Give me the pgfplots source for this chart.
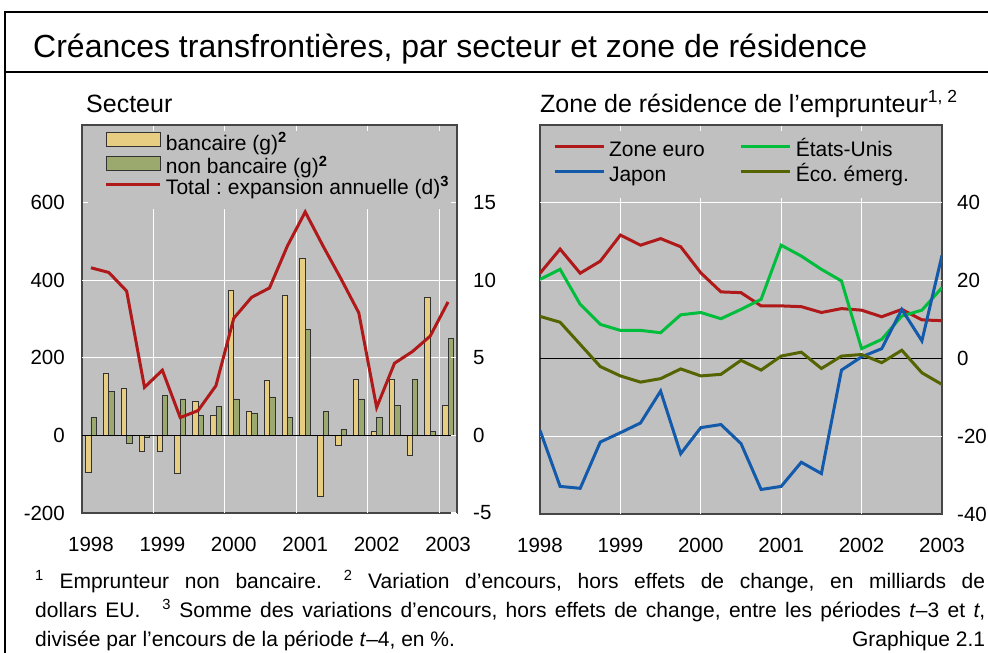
\documentclass[border=0pt]{standalone}
\usepackage{fontspec}
\setmainfont{Liberation Sans}
\usepackage{pgfplots}
\pgfplotsset{compat=1.18}
\frenchspacing
\definecolor{bg}{RGB}{192,192,192}
\definecolor{bankcol}{RGB}{230,205,130}
\definecolor{nbcol}{RGB}{155,168,110}
\definecolor{barline}{RGB}{50,50,50}
\definecolor{axcol}{RGB}{70,70,70}
\definecolor{redline}{RGB}{175,25,25}
\definecolor{usgreen}{RGB}{0,190,60}
\definecolor{japblue}{RGB}{20,90,170}
\definecolor{emolive}{RGB}{85,100,0}
\tikzset{gridline/.style={white, line width=1pt}}
\pgfplotsset{
  mystyle/.style={
    scale only axis,
    axis line style={draw=axcol, line width=1.5pt},
    tick style={white, line width=1.2pt},
    tick align=inside, major tick length=6pt,
    tick label style={font=\fontsize{20.5}{24}\selectfont},
    xticklabel style={anchor=north, inner sep=0pt, yshift=-24pt},
  },
}
\begin{document}
\begin{tikzpicture}
\useasboundingbox (0pt,0pt) rectangle (988pt,-653pt);
\draw[line width=2pt] (5pt,-12pt) -- (988pt,-12pt);
\draw[line width=2pt] (5pt,-72pt) -- (988pt,-72pt);
\draw[line width=2pt] (5pt,-11pt) -- (5pt,-653pt);
\node[anchor=base west, inner sep=0pt, font=\fontsize{32}{38}\selectfont] at (33pt,-57pt) {Créances transfrontières, par secteur et zone de résidence};
\node[anchor=base west, inner sep=0pt, font=\fontsize{25}{30}\selectfont] at (86pt,-112pt) {Secteur};
\node[anchor=base west, inner sep=0pt, font=\fontsize{25}{30}\selectfont] at (540pt,-112pt) {Zone de résidence de l’emprunteur\textsuperscript{1, 2}};

% ---------- left panel: bars ----------
\begin{axis}[mystyle, axis background/.style={fill=bg},
  at={(82pt,-513pt)}, anchor=south west, width=375pt, height=388pt,
  xmin=-0.5, xmax=20.5, ymin=-200, ymax=800,
  xtick={-0.5,3.5,7.5,11.5,15.5,19.5},
  xticklabels={1998,1999,2000,2001,2002,2003},
  xticklabel style={xshift=8.93pt},
  ytick={-200,0,200,400,600}, yticklabels={-200,0,200,400,600},
  ytick pos=left,
  yticklabel style={anchor=east, inner sep=0pt, xshift=-17pt},
]
% grid lines (stopping below the legend area)
\draw[gridline] (axis cs:-0.5,200) -- (axis cs:20.5,200);
\draw[gridline] (axis cs:-0.5,400) -- (axis cs:20.5,400);
\draw[gridline] (axis cs:3.5,-200) -- (axis cs:3.5,584);
\draw[gridline] (axis cs:7.5,-200) -- (axis cs:7.5,584);
\draw[gridline] (axis cs:11.5,-200) -- (axis cs:11.5,584);
\draw[gridline] (axis cs:15.5,-200) -- (axis cs:15.5,584);
\draw[gridline] (axis cs:19.5,-200) -- (axis cs:19.5,584);
\addplot[ybar, bar width=5.4pt, bar shift=-2.7pt, fill=bankcol, draw=barline, line width=0.8pt] coordinates {
(0,-95) (1,159) (2,120) (3,-41) (4,-40) (5,-99) (6,88) (7,51) (8,375) (9,62) (10,141)
(11,360) (12,455) (13,-156) (14,-26) (15,145) (16,10) (17,145) (18,-51) (19,355) (20,78)};
\addplot[ybar, bar width=5.4pt, bar shift=2.7pt, fill=nbcol, draw=barline, line width=0.8pt] coordinates {
(0,47) (1,113) (2,-21) (3,-5) (4,104) (5,94) (6,51) (7,74) (8,94) (9,57) (10,99)
(11,47) (12,272) (13,61) (14,16) (15,94) (16,47) (17,78) (18,145) (19,10) (20,249)};
\draw[black, line width=1pt] (axis cs:-0.5,0) -- (axis cs:20.5,0);
\end{axis}

% ---------- left panel: line (right axis) ----------
\begin{axis}[mystyle,
  at={(82pt,-513pt)}, anchor=south west, width=375pt, height=388pt,
  xmin=-0.5, xmax=20.5, ymin=-5, ymax=20,
  hide x axis, axis y line*=right,
  ytick={-5,0,5,10,15}, yticklabels={-5,0,5,10,15},
  yticklabel style={anchor=west, inner sep=0pt, xshift=16pt},
  legend image code/.code={\draw[#1] (0pt,5pt) -- (54pt,5pt);},
  legend cell align=left,
  legend style={draw=none, fill=none, at={(axis description cs:0.0613,0.982)}, anchor=north west,
    inner sep=0pt, outer sep=0pt, row sep=0pt, font=\fontsize{21}{25}\selectfont,
    nodes={inner sep=0pt, text height=15pt, text depth=5.5pt},
    /tikz/every odd column/.style={column sep=4pt}},
]
\addlegendimage{legend image code/.code={\draw[fill=bankcol, draw=barline, line width=0.8pt] (0pt,-1pt) rectangle (54pt,13pt);}}
\addlegendentry{bancaire (g)\textsuperscript{\textbf{2}}}
\addlegendimage{legend image code/.code={\draw[fill=nbcol, draw=barline, line width=0.8pt] (0pt,-1pt) rectangle (54pt,13pt);}}
\addlegendentry{non bancaire (g)\textsuperscript{\textbf{2}}}
\addplot[redline, line width=3pt] coordinates {
(0,10.8) (1,10.5) (2,9.3) (3,3.1) (4,4.2) (5,1.15) (6,1.6) (7,3.2) (8,7.55) (9,8.9) (10,9.5)
(11,12.2) (12,14.4) (13,12.2) (14,10.1) (15,7.9) (16,1.8) (17,4.65) (18,5.4) (19,6.4) (20,8.6)};
\addlegendentry{Total : expansion annuelle (d)\textsuperscript{\textbf{3}}}
\end{axis}

% ---------- right panel (x = quarter index, 0 = 1998 Q1) ----------
\begin{axis}[mystyle, axis background/.style={fill=bg},
  at={(540pt,-514pt)}, anchor=south west, width=402pt, height=389pt,
  xmin=0, xmax=20, ymin=-40, ymax=60,
  xtick={0,4,8,12,16,20},
  xticklabels={1998,1999,2000,2001,2002,2003},
  ytick={-40,-20,0,20,40}, yticklabels={-40,-20,0,20,40},
  yticklabel pos=right,
  yticklabel style={anchor=west, inner sep=0pt, xshift=15pt},
  legend columns=2,
  legend image code/.code={\draw[#1] (0pt,4.5pt) -- (49pt,4.5pt);},
  legend cell align=left,
  legend style={draw=none, fill=none, at={(axis description cs:0.0324,0.9635)}, anchor=north west,
    inner sep=0pt, outer sep=0pt, row sep=0pt, font=\fontsize{21}{25}\selectfont,
    nodes={inner sep=0pt, text height=17.5pt, text depth=7pt},
    /tikz/every odd column/.style={column sep=4pt},
    /tikz/every even column/.style={column sep=35pt}},
]
\draw[gridline] (axis cs:0,-20) -- (axis cs:20,-20);
\draw[gridline] (axis cs:0,20) -- (axis cs:20,20);
\draw[gridline] (axis cs:0,40) -- (axis cs:20,40);
\draw[gridline] (axis cs:4,-40) -- (axis cs:4,41.2);
\draw[gridline] (axis cs:8,-40) -- (axis cs:8,41.2);
\draw[gridline] (axis cs:12,-40) -- (axis cs:12,41.2);
\draw[gridline] (axis cs:16,-40) -- (axis cs:16,41.2);
\draw[black, line width=1pt] (axis cs:0,0) -- (axis cs:20,0);
\addplot[redline, line width=3pt] coordinates {
(0,21.9) (1,28.1) (2,21.9) (3,25.0) (4,31.7) (5,29.1) (6,30.8) (7,28.7)
(8,22.0) (9,17.1) (10,16.9) (11,13.5) (12,13.5) (13,13.3) (14,11.8) (15,12.8)
(16,12.4) (17,10.7) (18,12.6) (19,9.9) (20,9.7)};
\addlegendentry{Zone euro}
\addplot[usgreen, line width=3pt] coordinates {
(0,20.3) (1,22.9) (2,13.9) (3,8.75) (4,7.2) (5,7.2) (6,6.6) (7,11.2)
(8,11.8) (9,10.2) (10,12.6) (11,15.2) (12,29.1) (13,26.3) (14,22.9) (15,19.9)
(16,2.5) (17,4.9) (18,10.9) (19,12.4) (20,18.2)};
\addlegendentry{États-Unis}
\addplot[japblue, line width=3pt] coordinates {
(0,-18.5) (1,-32.9) (2,-33.4) (3,-21.5) (4,-19.1) (5,-16.6) (6,-8.4) (7,-24.5)
(8,-17.8) (9,-17.0) (10,-21.9) (11,-33.7) (12,-32.9) (13,-26.7) (14,-29.6) (15,-3.0)
(16,0.4) (17,2.5) (18,12.6) (19,4.5) (20,26.5)};
\addlegendentry{Japon}
\addplot[emolive, line width=3pt] coordinates {
(0,10.8) (1,9.3) (2,3.6) (3,-2.1) (4,-4.5) (5,-6.1) (6,-5.2) (7,-2.7)
(8,-4.5) (9,-4.1) (10,-0.5) (11,-3.0) (12,0.6) (13,1.6) (14,-2.6) (15,0.6)
(16,1.0) (17,-1.1) (18,2.1) (19,-3.7) (20,-6.7)};
\addlegendentry{Éco. émerg.}
\end{axis}

% ---------- footnotes ----------
\node[anchor=base west, inner sep=0pt, font=\fontsize{21}{25}\selectfont] at (35pt,-588.5pt)
 {\makebox[950pt][s]{\textsuperscript{1} Emprunteur non bancaire.\hspace{22pt}\textsuperscript{2} Variation d’encours, hors effets de change, en milliards de}};
\node[anchor=base west, inner sep=0pt, font=\fontsize{21}{25}\selectfont] at (35pt,-617pt)
 {\makebox[950pt][s]{dollars EU.\hspace{22pt}\textsuperscript{3} Somme des variations d’encours, hors effets de change, entre les périodes \textit{t}–3 et \textit{t},}};
\node[anchor=base west, inner sep=0pt, font=\fontsize{21}{25}\selectfont] at (35pt,-646pt)
 {\makebox[950pt][l]{divisée par l’encours de la période \textit{t}–4, en \%.\hfill Graphique 2.1}};
\end{tikzpicture}
\end{document}
